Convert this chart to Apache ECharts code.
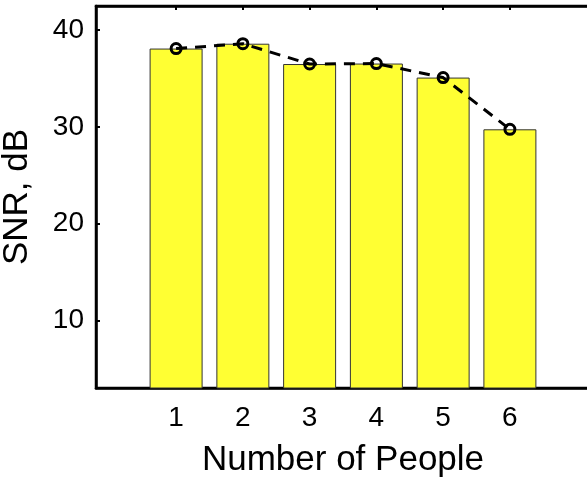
<!DOCTYPE html>
<html>
<head>
<meta charset="utf-8">
<script src="https://cdn.jsdelivr.net/npm/echarts@6/dist/echarts.min.js"></script>
<style>html,body{margin:0;padding:0;background:#fff}#c{width:587px;height:479px}</style>
</head>
<body>
<div id="c"></div>
<script>
var people = [1, 2, 3, 4, 5, 6];
var snr = [38.1, 38.6, 36.5, 36.55, 35.1, 29.75];
var yTicks = [10, 20, 30, 40];
var xTicks = [1, 2, 3, 4, 5, 6];

var pts = people.map(function (p, i) { return [p, snr[i]]; });
var font = 'Liberation Sans, Arial, Helvetica, sans-serif';
var chart = echarts.init(document.getElementById('c'), null, {renderer: 'canvas'});
function axisLine() { return {show: true, onZero: false, lineStyle: {color: '#000', width: 2.5}}; }
chart.setOption({
  animation: false,
  grid: {left: 96, top: 6, right: -3, bottom: 91, containLabel: false, outerBoundsMode: 'none',
         show: true, borderColor: '#000', borderWidth: 2.5, backgroundColor: 'transparent'},
  xAxis: [{
    type: 'value', min: -0.2, max: 7.2, position: 'bottom',
    name: 'Number of People', nameLocation: 'middle', nameGap: 55,
    nameTextStyle: {fontFamily: font, fontSize: 35, color: '#000'},
    axisLine: axisLine(),
    axisTick: {show: true, inside: true, length: 4, customValues: xTicks, lineStyle: {color: '#000', width: 2}},
    axisLabel: {show: true, customValues: xTicks, fontFamily: font, fontSize: 28, color: '#000', margin: 16},
    splitLine: {show: false}
  }, {
    type: 'value', min: -0.2, max: 7.2, position: 'top',
    axisLine: axisLine(),
    axisTick: {show: true, inside: true, length: 4, customValues: xTicks, lineStyle: {color: '#000', width: 2}},
    axisLabel: {show: false},
    splitLine: {show: false}
  }],
  yAxis: [{
    type: 'value', min: 3, max: 42.5,
    name: 'SNR, dB', nameLocation: 'middle', nameGap: 61,
    nameTextStyle: {fontFamily: font, fontSize: 35, color: '#000'},
    axisLine: axisLine(),
    axisTick: {show: true, inside: true, length: 4, customValues: yTicks, lineStyle: {color: '#000', width: 2}},
    axisLabel: {show: true, customValues: yTicks, fontFamily: font, fontSize: 28, color: '#000', margin: 12},
    splitLine: {show: false}
  }],
  series: [{
    type: 'bar', data: pts, barWidth: 53, xAxisIndex: 0,
    itemStyle: {color: '#ffff33', borderColor: '#333', borderWidth: 1}
  }, {
    type: 'line', data: pts, xAxisIndex: 0, smooth: false,
    symbol: 'circle', symbolSize: 10,
    lineStyle: {color: '#000', width: 3, type: [11, 8]},
    itemStyle: {color: 'rgba(0,0,0,0)', borderColor: '#000', borderWidth: 3},
    z: 5
  }]
});
</script>
</body>
</html>
